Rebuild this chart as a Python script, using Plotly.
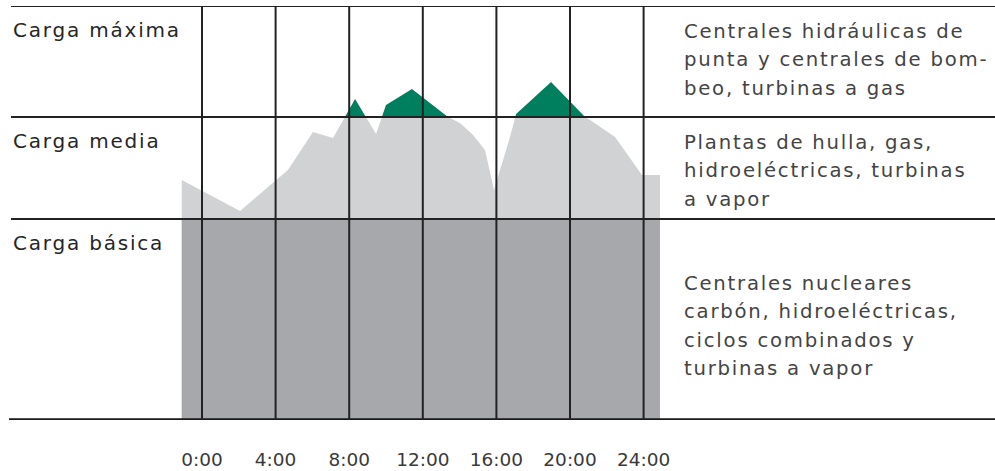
import numpy as np
import plotly.graph_objects as go

# ---------------- data ----------------
hours = [-1.10, 2.07, 4.67, 6.03, 7.12, 8.32, 9.46, 10.00, 11.41, 13.37, 14.02,
         14.73, 15.38, 15.87, 16.74, 17.07, 18.97, 20.82, 21.09, 22.45, 23.91, 24.89]
load = [240, 209, 250, 288, 282, 321, 286, 315, 331, 303, 297,
        285, 270, 230, 283, 306, 338, 303, 300, 283, 245, 245]

base_level = 201    # upper limit of "Carga básica"
media_level = 303   # upper limit of "Carga media"
top_level = 414     # upper limit of "Carga máxima"

tick_hours = [0, 4, 8, 12, 16, 20, 24]
tick_labels = ["0:00", "4:00", "8:00", "12:00", "16:00", "20:00", "24:00"]

band_names = ["Carga máxima", "Carga media", "Carga básica"]
band_tops = [top_level, media_level, base_level]

desc_max = ["Centrales hidráulicas de", "punta y centrales de bom-", "beo, turbinas a gas"]
desc_media = ["Plantas de hulla, gas,", "hidroeléctricas, turbinas", "a vapor"]
desc_basica = ["Centrales nucleares", "carbón, hidroeléctricas,", "ciclos combinados y", "turbinas a vapor"]
x_title = "Hora"

# ---------------- layout constants ----------------
W, H = 995, 471
M_TOP, M_BOT = 6, 51
X0_PX = 202.0          # pixel of hour 0
PX_PER_H = 18.4
FONT = "DejaVu Sans"
LINE = "#222222"
C_LIGHT = "#d1d2d4"
C_DARK = "#a7a8ab"
C_GREEN = "#007f5f"
TXT_DARK = "#262626"
TXT_GRAY = "#444444"
NOLINE = dict(width=0, color="rgba(0,0,0,0)")


def spaced(t, ls=1.2):
    return f"<span style='letter-spacing:{ls}px'>{t}</span>"


def with_crossings(x, y, level):
    xs, ys = [x[0]], [y[0]]
    for i in range(1, len(x)):
        y0, y1 = y[i - 1], y[i]
        if (y0 - level) * (y1 - level) < 0:
            t = (level - y0) / (y1 - y0)
            xs.append(x[i - 1] + t * (x[i] - x[i - 1]))
            ys.append(level)
        xs.append(x[i])
        ys.append(y[i])
    return np.array(xs), np.array(ys, dtype=float)


xs, ys = with_crossings(hours, load, media_level)

fig = go.Figure()
# light gray: carga media (and everything below the max-load line)
fig.add_trace(go.Scatter(x=xs, y=np.minimum(ys, media_level), mode="lines", line=NOLINE,
                         fill="tozeroy", fillcolor=C_LIGHT, hoverinfo="skip"))
# dark gray: carga básica
fig.add_trace(go.Scatter(x=[hours[0], hours[-1]], y=[base_level, base_level], mode="lines",
                         line=NOLINE, fill="tozeroy", fillcolor=C_DARK, hoverinfo="skip"))
# green: carga máxima (peaks above media level)
fig.add_trace(go.Scatter(x=xs, y=np.full(len(xs), media_level), mode="lines", line=NOLINE,
                         hoverinfo="skip"))
fig.add_trace(go.Scatter(x=xs, y=np.maximum(ys, media_level), mode="lines", line=NOLINE,
                         fill="tonexty", fillcolor=C_GREEN, hoverinfo="skip"))

shapes = []
# horizontal band lines
for lvl in [top_level, media_level, base_level]:
    shapes.append(dict(type="line", xref="paper", yref="y", x0=11 / W, x1=1,
                       y0=lvl, y1=lvl, line=dict(color=LINE, width=2)))
shapes.append(dict(type="line", xref="paper", yref="y", x0=9 / W, x1=1,
                   y0=0, y1=0, line=dict(color="#1a1a1a", width=3.6)))
# vertical hour lines
for h in tick_hours:
    shapes.append(dict(type="line", xref="x", yref="y", x0=h, x1=h,
                       y0=0, y1=top_level, line=dict(color=LINE, width=2)))

annotations = []
for name, top in zip(band_names, band_tops):
    annotations.append(dict(text=spaced(name, 1.8), xref="paper", yref="y", x=11 / W, y=top - 24,
                            xanchor="left", yanchor="middle", showarrow=False,
                            font=dict(family=FONT, size=20, color=TXT_DARK)))

LINE_STEP = 28.5
for lines, first in [(desc_max, top_level - 25), (desc_media, media_level - 25),
                     (desc_basica, base_level - 64)]:
    for i, ln in enumerate(lines):
        annotations.append(dict(text=spaced(ln, 1.75), xref="paper", yref="y", x=682 / W,
                                y=first - i * LINE_STEP, xanchor="left", yanchor="middle",
                                showarrow=False,
                                font=dict(family=FONT, size=19.7, color=TXT_GRAY)))

annotations.append(dict(text=spaced(x_title, 1.6), xref="paper", yref="y", x=11 / W, y=-40,
                        xanchor="left", yanchor="middle", showarrow=False,
                        font=dict(family=FONT, size=20, color=TXT_DARK)))

x_min = -X0_PX / PX_PER_H
x_max = (W - X0_PX) / PX_PER_H

fig.update_layout(
    width=W, height=H,
    margin=dict(l=0, r=0, t=M_TOP, b=M_BOT, pad=0),
    paper_bgcolor="white", plot_bgcolor="white",
    showlegend=False,
    shapes=shapes, annotations=annotations,
    xaxis=dict(range=[x_min, x_max], tickvals=tick_hours, ticktext=tick_labels,
               showgrid=False, zeroline=False, showline=False, ticks="",
               tickfont=dict(family=FONT, size=18.5, color="#3a3a3a"),
               ticklabelstandoff=26, fixedrange=True),
    yaxis=dict(range=[0, top_level], showgrid=False, zeroline=False, showline=False,
               showticklabels=False, ticks="", fixedrange=True),
)

fig.write_html("out.html", config={"displayModeBar": False},
               post_script="document.body.style.margin='0';document.body.style.overflow='hidden';")
